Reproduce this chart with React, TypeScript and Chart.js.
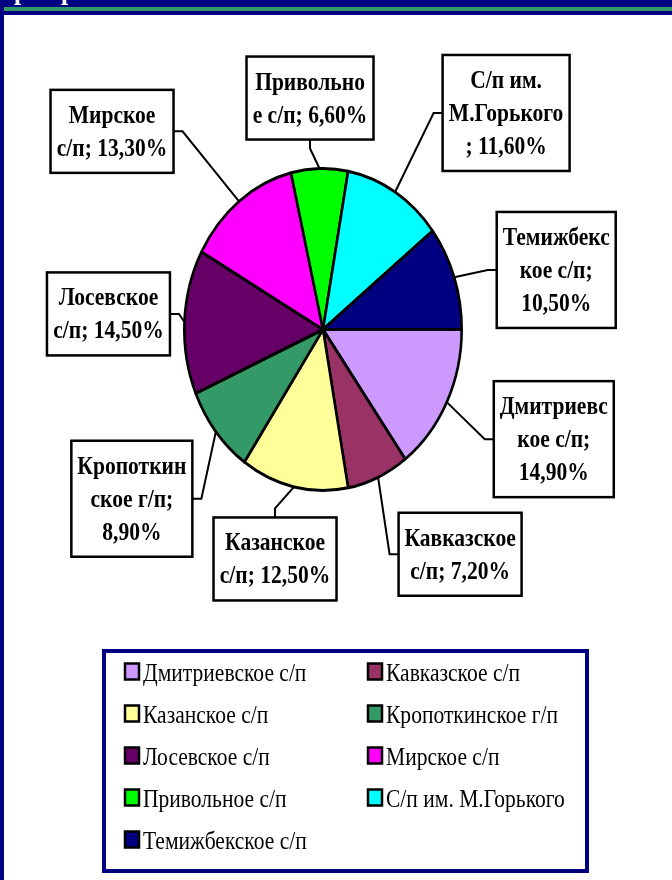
import React, { useEffect, useRef } from "react";
import { Chart, registerables } from "chart.js";

Chart.register(...registerables);

// ---- data ----
const categories = [
  "Дмитриевское с/п",
  "Кавказское с/п",
  "Казанское с/п",
  "Кропоткинское г/п",
  "Лосевское с/п",
  "Мирское с/п",
  "Привольное с/п",
  "С/п им. М.Горького",
  "Темижбекское с/п",
];
const shares = [14.9, 7.2, 12.5, 8.9, 14.5, 13.3, 6.6, 11.6, 10.5];
const sliceColors = [
  "#CC99FF",
  "#993366",
  "#FFFF99",
  "#339966",
  "#660066",
  "#FF00FF",
  "#00FF00",
  "#00FFFF",
  "#000080",
];
// data label text, wrapped as in the reference; {v} = formatted share
const labelLines = [
  ["Дмитриевс", "кое с/п;", "{v}"],
  ["Кавказское", "с/п; {v}"],
  ["Казанское", "с/п; {v}"],
  ["Кропоткин", "ское г/п;", "{v}"],
  ["Лосевское", "с/п; {v}"],
  ["Мирское", "с/п; {v}"],
  ["Привольно", "е с/п; {v}"],
  ["С/п им.", "М.Горького", "; {v}"],
  ["Темижбекс", "кое с/п;", "{v}"],
];

// ---- layout (label box offsets from slice anchor, connector side) ----
const labelOffsets: [number, number, string][] = [
  [107, 37, "L"],
  [82, 77, "L"],
  [-19, 72, "T"],
  [-84, 67, "R"],
  [-76, -8, "R"],
  [-127, -70, "R"],
  [-9.5, -70.5, "B"],
  [111, -79, "L"],
  [102, -7.4, "L"],
];

const SX = 0.8615;
const NAVY = "#000080";
const LABEL_FONT = "bold 25px 'Liberation Serif', 'Times New Roman', serif";
const LEGEND_FONT = "25px 'Liberation Serif', 'Times New Roman', serif";

const fmt = (v: number) => v.toFixed(2).replace(".", ",") + "%";

function squishText(ctx: CanvasRenderingContext2D, t: string, x: number, y: number) {
  ctx.save();
  ctx.translate(x, y);
  ctx.scale(SX, 1);
  ctx.fillText(t, 0, 0);
  ctx.restore();
}

const piePlugin = {
  id: "piePlugin",
  beforeDraw(chart: any) {
    const ctx = chart.ctx as CanvasRenderingContext2D;
    const W = chart.width;
    const H = chart.height;
    ctx.save();
    ctx.fillStyle = "#FFFFFF";
    ctx.fillRect(0, 0, W, H);
    ctx.fillStyle = NAVY;
    ctx.fillRect(0, 0, W, 15);
    ctx.fillStyle = "#339966";
    ctx.fillRect(0, 7, W, 4);
    ctx.fillStyle = NAVY;
    ctx.fillRect(0, 0, 4, H);
    // cut-off title fragments
    ctx.fillStyle = "#FFFFFF";
    ctx.font = "bold 30px 'Liberation Serif', serif";
    ctx.textBaseline = "alphabetic";
    ctx.textAlign = "left";
    squishText(ctx, "р", 14, -1);
    squishText(ctx, "р", 61, -1);
    ctx.restore();
  },
  beforeDatasetsDraw(chart: any) {
    const ctx = chart.ctx as CanvasRenderingContext2D;
    const a = chart.getDatasetMeta(0).data[0];
    ctx.save();
    ctx.translate(a.x, a.y);
    ctx.scale(SX, 1);
    ctx.translate(-a.x, -a.y);
  },
  afterDatasetsDraw(chart: any) {
    const ctx = chart.ctx as CanvasRenderingContext2D;
    ctx.restore();
    const meta = chart.getDatasetMeta(0);
    const values = chart.data.datasets[0].data as number[];
    ctx.save();
    ctx.font = LABEL_FONT;
    meta.data.forEach((el: any, i: number) => {
      const p = el.getProps(["x", "y", "startAngle", "endAngle", "outerRadius"], true);
      const mid = (p.startAngle + p.endAngle) / 2;
      const ax = p.x + SX * p.outerRadius * Math.cos(mid);
      const ay = p.y + p.outerRadius * Math.sin(mid);
      const lines = labelLines[i].map((t) => t.replace("{v}", fmt(values[i])));
      const [dx, dy, side] = labelOffsets[i];
      const bx = ax + dx;
      const by = ay + dy;
      const tw = Math.max(...lines.map((t) => ctx.measureText(t).width)) * SX;
      const w = Math.round(tw + 12);
      const h = lines.length * 33 + 17;
      let ex = bx, ey = by, kx = bx, ky = by;
      if (side === "L") { ex = bx - w / 2; kx = ex - 9; ky = by; }
      if (side === "R") { ex = bx + w / 2; kx = ex + 9; ky = by; }
      if (side === "T") { ey = by - h / 2; ky = ey - 9; kx = bx; }
      if (side === "B") { ey = by + h / 2; ky = ey + 9; kx = bx; }
      ctx.strokeStyle = "#000";
      ctx.lineWidth = 2;
      ctx.beginPath();
      ctx.moveTo(ax, ay);
      ctx.lineTo(kx, ky);
      ctx.lineTo(ex, ey);
      ctx.stroke();
      ctx.fillStyle = "#FFF";
      ctx.fillRect(bx - w / 2, by - h / 2, w, h);
      ctx.lineWidth = 2.5;
      ctx.strokeRect(bx - w / 2, by - h / 2, w, h);
      ctx.fillStyle = "#000";
      ctx.textAlign = "center";
      ctx.textBaseline = "alphabetic";
      lines.forEach((t, j) => {
        squishText(ctx, t, bx, by + (j - (lines.length - 1) / 2) * 33 + 8);
      });
    });
    ctx.restore();
  },
  afterDraw(chart: any) {
    const ctx = chart.ctx as CanvasRenderingContext2D;
    const labels = chart.data.labels as string[];
    const colors = chart.data.datasets[0].backgroundColor as string[];
    ctx.save();
    ctx.strokeStyle = NAVY;
    ctx.lineWidth = 4;
    ctx.strokeRect(104, 651, 483, 220);
    const colX = [125, 368];
    ctx.font = LEGEND_FONT;
    ctx.textAlign = "left";
    ctx.textBaseline = "alphabetic";
    labels.forEach((lab, i) => {
      const c = i % 2;
      const r = Math.floor(i / 2);
      const x = colX[c];
      const base = 680.5 + r * 42;
      ctx.fillStyle = colors[i];
      ctx.fillRect(x, base - 17, 14, 16);
      ctx.strokeStyle = "#000";
      ctx.lineWidth = 2.5;
      ctx.strokeRect(x, base - 17, 14, 16);
      ctx.fillStyle = "#000";
      squishText(ctx, lab, x + 18, base);
    });
    ctx.restore();
  },
};

export default function App() {
  const ref = useRef<HTMLCanvasElement>(null);
  useEffect(() => {
    const chart = new Chart(ref.current!, {
      type: "pie",
      data: {
        labels: categories,
        datasets: [
          {
            data: shares,
            backgroundColor: sliceColors,
            borderColor: "#000000",
            borderWidth: 3,
            radius: 161,
          } as any,
        ],
      },
      options: {
        animation: false,
        responsive: false,
        maintainAspectRatio: false,
        devicePixelRatio: 1,
        rotation: 90,
        layout: { padding: { left: 0, top: 0, right: 26, bottom: 221 } },
        plugins: {
          legend: { display: false },
          tooltip: { enabled: false },
          title: { display: false },
        },
      } as any,
      plugins: [piePlugin],
    });
    return () => chart.destroy();
  }, []);
  return (
    <div style={{ position: "absolute", left: 0, top: 0, width: 672, height: 880, background: "#fff" }}>
      <canvas ref={ref} width={672} height={880} style={{ width: 672, height: 880, display: "block" }} />
    </div>
  );
}
